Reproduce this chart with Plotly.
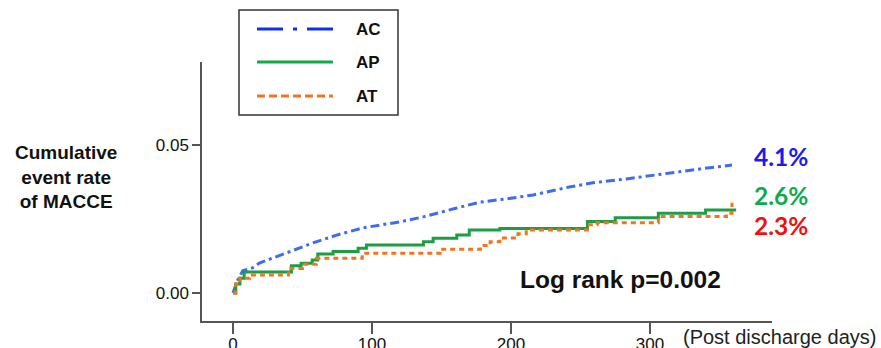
import plotly.graph_objects as go

# ---- data ----
ac_days = [0, 3, 7, 14, 19, 39, 57.5, 75, 93.5, 120, 137, 161, 178, 197, 216, 242, 259, 283, 312, 336, 359]
ac_rate = [0.0, 0.004, 0.0075, 0.0085, 0.0101, 0.0135, 0.0169, 0.0196, 0.0220, 0.0240, 0.0257, 0.0287,
           0.0307, 0.0318, 0.0331, 0.0358, 0.0372, 0.0385, 0.0405, 0.0419, 0.0432]

ap_days = [0, 2, 5, 8, 42, 49, 57, 61, 72, 90, 96, 137, 144, 161, 170, 192, 255, 275, 306, 340, 362]
ap_rate = [0.0, 0.003, 0.005, 0.0071, 0.0092, 0.0100, 0.0111, 0.0132, 0.0140, 0.0151, 0.0162, 0.0173,
           0.0185, 0.0196, 0.0213, 0.0218, 0.0241, 0.0254, 0.0269, 0.0280, 0.0280]

at_days = [0, 2, 5, 12, 40, 50, 60, 93, 149, 178, 185, 192, 205, 211, 255, 262, 306, 355, 359]
at_rate = [0.0, 0.003, 0.005, 0.0061, 0.0083, 0.0097, 0.0117, 0.0134, 0.0148, 0.0160, 0.0173, 0.0186,
           0.0200, 0.0213, 0.0230, 0.0237, 0.0258, 0.0269, 0.0305]

series_names = ["AC", "AP", "AT"]
final_labels = ["4.1%", "2.6%", "2.3%"]
x_ticks = [0, 100, 200, 300]
y_ticks = [0.0, 0.05]
y_tick_text = ["0.00", "0.05"]

# ---- styles ----
W, H = 881, 348
L, R, T, B = 202, 109, 62, 27  # plot area: x 202..772, y 62..321
line_col = {"AC": "#3d6cf2", "AP": "#1c9e44", "AT": "#f5731c"}
leg_col = {"AC": "#1030e8", "AP": "#11ab4c", "AT": "#ee7424"}
label_col = ["#1a1af0", "#0eaa50", "#f01010"]


def px(xp):
    return (xp - L) / (W - L - R)


def py(yp):
    return (H - B - yp) / (H - T - B)


fig = go.Figure()
fig.add_trace(go.Scatter(x=ac_days, y=ac_rate, mode="lines", name="AC",
                         line=dict(color=line_col["AC"], width=3, dash="9px,4px,3px,4px")))
fig.add_trace(go.Scatter(x=ap_days, y=ap_rate, mode="lines", name="AP", line_shape="hv",
                         line=dict(color=line_col["AP"], width=3)))
fig.add_trace(go.Scatter(x=at_days, y=at_rate, mode="lines", name="AT", line_shape="hv",
                         line=dict(color=line_col["AT"], width=3, dash="5px,4px")))

shapes = []
annotations = []

# legend box
shapes.append(dict(type="rect", xref="paper", yref="paper",
                   x0=px(239), x1=px(398), y0=py(115), y1=py(10),
                   line=dict(color="#333333", width=1.5)))
leg_y = [29, 62, 96]
leg_dash = ["26px,10px,4px,10px", "solid", "8px,4px"]
for name, yy, dsh in zip(series_names, leg_y, leg_dash):
    shapes.append(dict(type="line", xref="paper", yref="paper",
                       x0=px(257), x1=px(333), y0=py(yy), y1=py(yy),
                       line=dict(color=leg_col[name], width=3, dash=dsh)))
    annotations.append(dict(xref="paper", yref="paper", x=px(354), y=py(yy), xanchor="left",
                            yanchor="middle", text=f"<b>{name}</b>", showarrow=False,
                            font=dict(family="Liberation Sans, Arial", size=17, color="#111111")))

# final value labels
for txt, yy, col in zip(final_labels, [156, 195, 225], label_col):
    annotations.append(dict(xref="paper", yref="paper", x=px(752), y=py(yy), xanchor="left",
                            yanchor="middle", text=f"<b>{txt}</b>", showarrow=False,
                            font=dict(family="Lato", size=24.5, color=col)))

# log rank text
annotations.append(dict(xref="paper", yref="paper", x=px(620), y=py(279), xanchor="center",
                        yanchor="middle", text="<b>Log rank p=0.002</b>", showarrow=False,
                        font=dict(family="Liberation Sans, Arial", size=24.5, color="#111111")))

# y-axis title
annotations.append(dict(xref="paper", yref="paper", x=px(66), y=py(177), xanchor="center",
                        yanchor="middle", align="center",
                        text="<b>Cumulative<br>event rate<br>of MACCE</b>", showarrow=False,
                        font=dict(family="Liberation Sans, Arial", size=19, color="#111111")))

# x-axis title
annotations.append(dict(xref="paper", yref="paper", x=px(681), y=py(337), xanchor="left",
                        yanchor="middle", text="(Post discharge days)", showarrow=False,
                        font=dict(family="Liberation Sans, Arial", size=20, color="#222222")))

fig.update_layout(
    width=W, height=H,
    margin=dict(l=L, r=R, t=T, b=B, pad=0, autoexpand=False),
    paper_bgcolor="white", plot_bgcolor="white",
    showlegend=False,
    shapes=shapes, annotations=annotations,
    xaxis=dict(range=[-22.3, 387.8], tickvals=x_ticks, ticks="outside", ticklen=11, tickwidth=1.5,
               tickcolor="#555555", showline=True, linecolor="#555555", linewidth=1.5,
               showgrid=False, zeroline=False, automargin=False, ticklabelstandoff=-4,
               tickfont=dict(family="Liberation Sans, Arial", size=17, color="#111111")),
    yaxis=dict(range=[-0.00946, 0.078], tickvals=y_ticks, ticktext=y_tick_text, ticks="outside",
               ticklen=8, tickwidth=1.5, tickcolor="#555555", showline=True, linecolor="#555555",
               linewidth=1.5, showgrid=False, zeroline=False, automargin=False,
               tickfont=dict(family="Liberation Sans, Arial", size=17, color="#111111")),
)

fig.write_html("out.html")
